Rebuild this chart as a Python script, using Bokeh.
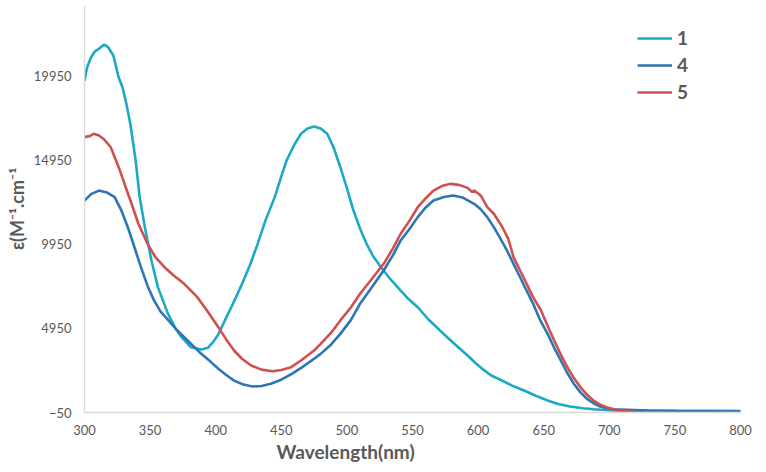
from bokeh.plotting import figure
from bokeh.models import Range1d, FixedTicker, Legend, LegendItem, Title
from bokeh.embed import file_html
from bokeh.resources import INLINE

# ---- data ----
x1 = [300, 302, 305, 308, 311, 315, 318, 322, 326, 329, 332, 335, 339, 342, 346, 351,
      356, 363.5, 369, 374, 381, 389, 394, 398, 402, 407, 413, 419, 426, 432, 438, 445,
      450, 454, 460, 465, 470, 475, 480, 485, 490, 495, 500, 505, 510, 515, 520, 526,
      533, 541, 547, 554, 562, 571, 581, 592, 598, 604, 610, 617, 626, 635, 644, 653,
      661, 670, 680, 688, 703, 720, 740, 760, 780, 800]
y1 = [19700, 20500, 21100, 21450, 21600, 21850, 21700, 21200, 19900, 19300, 18300, 17100,
      14950, 12800, 10980, 9000, 7400, 5850, 5000, 4430, 3840, 3700, 3800, 4135, 4600,
      5430, 6400, 7410, 8700, 9990, 11400, 12770, 14000, 14950, 15900, 16540, 16850,
      16970, 16850, 16540, 15700, 14550, 13300, 11970, 10900, 9990, 9250, 8600, 7900,
      7210, 6700, 6220, 5500, 4830, 4100, 3340, 2900, 2500, 2150, 1900, 1550, 1260, 950,
      664, 450, 307, 200, 146, 70, 60, 50, 40, 30, 20]

x4 = [300, 305, 311, 317, 323, 328, 333, 338, 343, 348, 353, 358, 364, 370, 376, 383,
      389, 396, 402, 408, 414, 421, 428, 435, 442, 450, 458, 466, 475, 480, 488, 495,
      503, 510, 519, 528, 535, 541, 548, 554, 560, 566, 574, 581, 588, 597, 602, 607,
      612, 617, 622, 627, 632, 637, 642, 647, 653, 658, 663, 668, 673, 678, 683, 688,
      693, 698, 703, 729, 750, 775, 800]
y4 = [12570, 12950, 13160, 13050, 12770, 12000, 10980, 9800, 8600, 7500, 6620, 5950,
      5430, 4900, 4430, 3900, 3440, 2980, 2550, 2180, 1850, 1620, 1500, 1530, 1660, 1900,
      2250, 2650, 3150, 3440, 4000, 4630, 5450, 6420, 7400, 8400, 9300, 10190, 10900,
      11580, 12150, 12570, 12780, 12870, 12750, 12370, 12050, 11580, 10980, 10300, 9600,
      8800, 8000, 7200, 6420, 5500, 4630, 3800, 3050, 2300, 1660, 1150, 765, 500, 307,
      210, 146, 69, 50, 40, 30]

x5 = [300, 304, 307, 311, 315, 320, 324, 327, 331, 335, 341, 348, 354, 361, 368, 376,
      386, 394, 402, 408, 414, 420, 427, 435, 443.5, 450, 457.5, 465, 475, 480, 488, 495,
      503, 510, 519, 528, 535, 541, 548, 554, 560, 566, 573, 579, 585, 592, 595.5, 597,
      602, 607, 612, 618, 623, 627, 632, 637, 642, 648, 653, 658, 663, 668, 673, 678,
      683, 688, 693, 698, 703, 708, 724, 750, 775, 800]
y5 = [16340, 16400, 16540, 16440, 16200, 15740, 14950, 14350, 13450, 12570, 11200, 9990,
      9200, 8600, 8100, 7610, 6815, 5950, 5030, 4300, 3640, 3150, 2750, 2500, 2410, 2480,
      2650, 3045, 3640, 4040, 4700, 5430, 6200, 7015, 7900, 8800, 9700, 10590, 11400,
      12170, 12700, 13160, 13450, 13560, 13500, 13320, 13070, 13160, 12870, 12170, 11780,
      11050, 10290, 9200, 8400, 7610, 6800, 6020, 5100, 4240, 3400, 2650, 2000, 1460,
      1000, 664, 420, 267, 150, 69, -50, -80, -80, -60]

series_names = ["1", "4", "5"]
x_ticks = [300, 350, 400, 450, 500, 550, 600, 650, 700, 750, 800]
y_ticks = [-50, 4950, 9950, 14950, 19950]

colors = ["#1BA9C6", "#2E75B6", "#D0504F"]
FONT = "Lato"
GRAY = "#595959"

p = figure(frame_width=656, frame_height=407,
           min_border_left=84, min_border_right=26, min_border_top=5, min_border_bottom=60,
           x_range=Range1d(300, 800), y_range=Range1d(-50, 24176),
           output_backend="svg", toolbar_location=None)

r1 = p.line(x1, y1, line_color=colors[0], line_width=2.6)
r4 = p.line(x4, y4, line_color=colors[1], line_width=2.6)
r5 = p.line(x5, y5, line_color=colors[2], line_width=2.6)

p.xgrid.visible = False
p.ygrid.visible = False
p.outline_line_color = None

p.xaxis.ticker = FixedTicker(ticks=x_ticks)
p.yaxis.ticker = FixedTicker(ticks=y_ticks)
for ax in (p.xaxis[0], p.yaxis[0]):
    ax.axis_line_color = "#D9D9D9"
    ax.axis_line_width = 1.3
    ax.major_tick_line_color = None
    ax.minor_tick_line_color = None
    ax.major_tick_out = 0
    ax.major_tick_in = 0
    ax.minor_tick_out = 0
    ax.major_label_text_font = FONT
    ax.major_label_text_font_size = "13px"
    ax.major_label_text_color = GRAY
    ax.axis_label_text_font = FONT
    ax.axis_label_text_font_style = "bold"
    ax.axis_label_text_color = GRAY

p.xaxis.major_label_standoff = 12

p.yaxis.axis_label = "ε(M⁻¹.cm⁻¹"
p.yaxis.axis_label_text_font_size = "18px"
p.yaxis.major_label_standoff = 13
p.yaxis.axis_label_standoff = 3

xtitle = Title(text="Wavelength(nm)", align="left", offset=192, standoff=0,
               text_font=FONT, text_font_size="19px", text_font_style="bold",
               text_color=GRAY)
p.add_layout(xtitle, "below")

legend = Legend(items=[LegendItem(label=series_names[0], renderers=[r1]),
                       LegendItem(label=series_names[1], renderers=[r4]),
                       LegendItem(label=series_names[2], renderers=[r5])],
                location=(553, 309), orientation="vertical",
                glyph_width=35, glyph_height=20, label_height=20, spacing=4,
                padding=0, margin=0, label_standoff=5,
                border_line_color=None, background_fill_alpha=0,
                label_text_font=FONT, label_text_font_style="bold",
                label_text_font_size="19px", label_text_color=GRAY)
p.add_layout(legend, "center")

open("out.html", "w").write(file_html(p, INLINE))
